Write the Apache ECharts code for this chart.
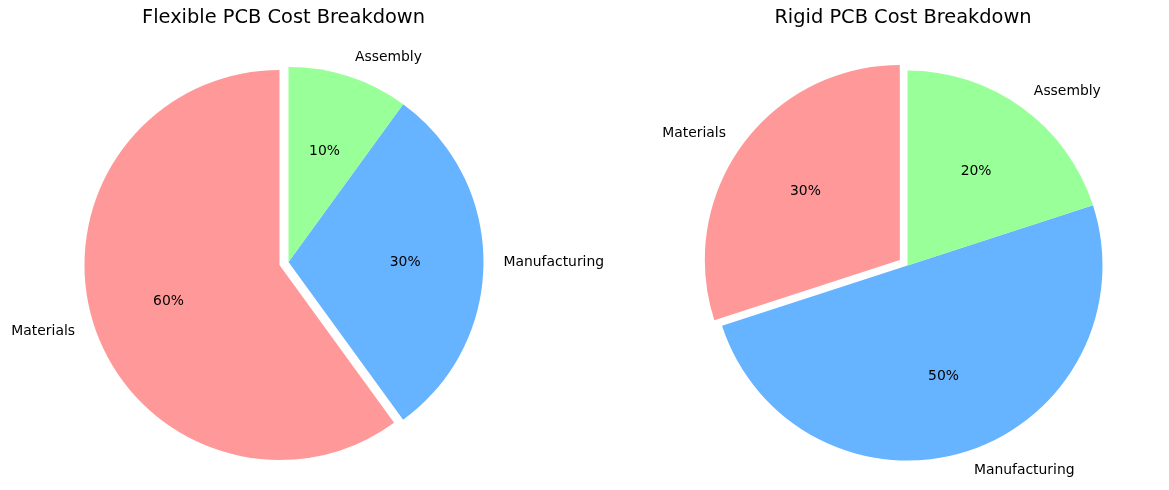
<!DOCTYPE html>
<html>
<head>
<meta charset="utf-8">
<script src="https://cdn.jsdelivr.net/npm/echarts@6/dist/echarts.min.js"></script>
<style>
  html, body { margin: 0; padding: 0; background: #fff; }
  #chart { width: 1169px; height: 490px; }
</style>
</head>
<body>
<div id="chart"></div>
<script>
// data
var categories = ["Materials", "Manufacturing", "Assembly"];
var flexibleValues = [60, 30, 10];
var rigidValues = [30, 50, 20];
var chartTitles = ["Flexible PCB Cost Breakdown", "Rigid PCB Cost Breakdown"];
var colors = ["#ff9999", "#66b3ff", "#99ff99"];
var exploded = "Materials";

var FONT = "DejaVu Sans";
var R = 195;           // pie radius
var OFFSET = 9.5;      // explode distance (~0.05 * R)

function items(values) {
    return categories.map(function (name, i) {
        return {
            name: name,
            value: values[i],
            selected: name === exploded,
            itemStyle: { color: colors[i] }
        };
    });
}

// main pie with outside category labels (at ~1.1 r)
function mainPie(values, center) {
    return {
        type: "pie",
        center: center,
        radius: R,
        startAngle: 90,
        clockwise: false,
        selectedMode: "multiple",
        selectedOffset: OFFSET,
        avoidLabelOverlap: false,
        silent: true,
        animation: false,
        itemStyle: { borderWidth: 0 },
        label: {
            show: true,
            position: "outside",
            formatter: "{b}",
            fontFamily: FONT,
            fontSize: 13.9,
            color: "#000",
            distanceToLabelLine: 0
        },
        labelLine: { show: false, length: 20, length2: 0 },
        emphasis: { disabled: true },
        data: items(values)
    };
}

// transparent bigger pie whose "inside" labels land at ~0.6 r
function pctPie(values, center) {
    return {
        type: "pie",
        center: center,
        radius: R * 1.166,
        startAngle: 90,
        clockwise: false,
        selectedMode: "multiple",
        selectedOffset: OFFSET,
        silent: true,
        animation: false,
        itemStyle: { color: "transparent", borderWidth: 0 },
        label: {
            show: true,
            position: "inside",
            formatter: "{c}%",
            fontFamily: FONT,
            fontSize: 13.9,
            color: "#000"
        },
        labelLine: { show: false },
        emphasis: { disabled: true },
        data: items(values).map(function (d) {
            d.itemStyle = { color: "transparent" };
            return d;
        })
    };
}

var leftCenter = [288.5, 262];
var rightCenter = [907.5, 265.5];

var chart = echarts.init(document.getElementById("chart"));
chart.setOption({
    backgroundColor: "#fff",
    title: [
        {
            text: chartTitles[0], left: 283.5, top: 8, padding: 0, textAlign: "center",
            textStyle: { fontFamily: FONT, fontSize: 19.4, fontWeight: "normal", color: "#000" }
        },
        {
            text: chartTitles[1], left: 903, top: 8, padding: 0, textAlign: "center",
            textStyle: { fontFamily: FONT, fontSize: 19.4, fontWeight: "normal", color: "#000" }
        }
    ],
    series: [
        mainPie(flexibleValues, leftCenter),
        pctPie(flexibleValues, leftCenter),
        mainPie(rigidValues, rightCenter),
        pctPie(rigidValues, rightCenter)
    ]
});
</script>
</body>
</html>
